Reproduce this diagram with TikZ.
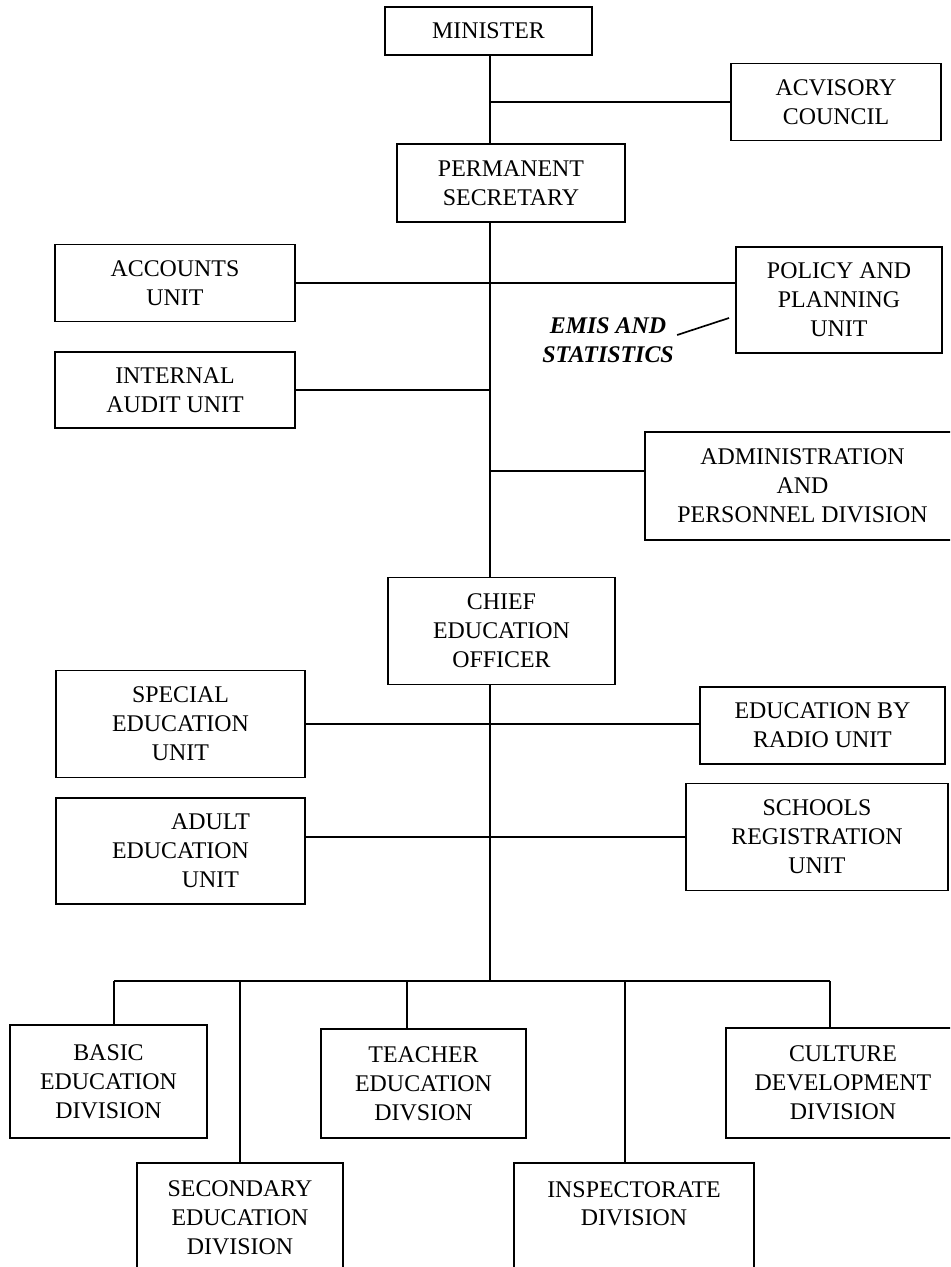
\documentclass[tikz,border=0pt]{standalone}
\usepackage{fontspec}
\setmainfont{Liberation Serif}

\tikzset{
  unit/.style={draw, line width=0.95pt, align=center, inner sep=0pt, font=\fontsize{13.6}{16.4}\selectfont},
  link/.style={line width=0.95pt},
}

\begin{document}
\begin{tikzpicture}[x=0.02cm, y=-0.02cm]
		\useasboundingbox (0,0) rectangle (950,1267);
		\clip (0,0) rectangle (950,1267);

		% top of the ministry
		\node[unit, minimum width=4.14cm, minimum height=0.96cm] (minister) at (488.5,31) {MINISTER};
		\node[unit, minimum width=4.2cm, minimum height=1.54cm] (advisory) at (836,102) {ACVISORY\\COUNCIL};
		\node[unit, minimum width=4.56cm, minimum height=1.56cm] (ps) at (511,183) {PERMANENT\\SECRETARY};

		\node[unit, minimum width=4.8cm, minimum height=1.54cm] (accounts) at (175,283) {ACCOUNTS\\UNIT};
		\node[unit, minimum width=4.12cm, minimum height=2.12cm] (policy) at (839,300) {POLICY AND\\PLANNING\\UNIT};
		\node[font=\fontsize{13.6}{16.4}\selectfont\bfseries\itshape, align=center, inner sep=0pt] (emis) at (608,340) {EMIS AND\\STATISTICS};
		\node[unit, minimum width=4.8cm, minimum height=1.52cm] (internal) at (175,390) {INTERNAL\\AUDIT UNIT};
		\node[unit, minimum width=6.3cm, minimum height=2.16cm] (admin) at (802.5,486) {ADMINISTRATION\\AND\\PERSONNEL DIVISION};

		% chief education officer and units
		\node[unit, minimum width=4.54cm, minimum height=2.14cm] (ceo) at (501.5,631) {CHIEF\\EDUCATION\\OFFICER};
		\node[unit, minimum width=4.98cm, minimum height=2.14cm] (special) at (180.5,724) {SPECIAL\\EDUCATION\\UNIT};
		\node[unit, minimum width=4.9cm, minimum height=1.54cm] (radio) at (822.5,725.5) {EDUCATION BY\\RADIO UNIT};
		\node[unit, minimum width=4.98cm, minimum height=2.12cm] (adult) at (180.5,851) {\hspace*{1.2cm}ADULT\\EDUCATION\\\hspace*{1.2cm}UNIT};
		\node[unit, minimum width=5.24cm, minimum height=2.14cm] (schools) at (817,837) {SCHOOLS\\REGISTRATION\\UNIT};

		% divisions
		\node[unit, minimum width=3.94cm, minimum height=2.26cm] (basic) at (108.5,1081.5) {BASIC\\EDUCATION\\DIVISION};
		\node[unit, minimum width=4.1cm, minimum height=2.18cm] (teacher) at (423.5,1083.5) {TEACHER\\EDUCATION\\DIVSION};
		\node[unit, minimum width=4.68cm, minimum height=2.2cm] (culture) at (843,1083) {CULTURE\\DEVELOPMENT\\DIVISION};
		\node[unit, minimum width=4.12cm, minimum height=2.2cm] (secondary) at (240,1218) {SECONDARY\\EDUCATION\\DIVISION};
		\node[unit, minimum width=4.8cm, minimum height=2.2cm] (inspect) at (634,1218) {INSPECTORATE\\DIVISION\\\phantom{D}};

		\coordinate (spine) at (490,0);
		\coordinate (bus) at (490,981);
		\coordinate (emisEnd) at (729,318);
		\coordinate (adminIn) at ([yshift=0.3cm]admin.west);
		\coordinate (dBasic) at ([xshift=0.11cm]basic.north);
		\coordinate (dSecondary) at (secondary.north);
		\coordinate (dTeacher) at ([xshift=-0.33cm]teacher.north);
		\coordinate (dInspect) at ([xshift=-0.18cm]inspect.north);
		\coordinate (dCulture) at ([xshift=-0.26cm]culture.north);

		\draw[link] (spine |- minister.south) -- (spine |- ps.north);
		\draw[link] (spine |- ps.south) -- (spine |- ceo.north);
		\draw[link] (spine |- ceo.south) -- (bus);

		\draw[link] (spine |- advisory.west) -- (advisory.west);
		\draw[link] (accounts.east) -- (accounts.east -| policy.west);
		\draw[link] ([shift={(3,-5)}]emis.east) -- (emisEnd);
		\draw[link] (internal.east) -- (internal.east -| spine);
		\draw[link] (spine |- adminIn) -- (adminIn);
		\draw[link] (special.east) -- (special.east -| radio.west);
		\draw[link] (adult.east |- schools.west) -- (schools.west);

		\draw[link] (dBasic |- bus) -- (dCulture |- bus);
		\foreach \d in {dBasic, dSecondary, dTeacher, dInspect, dCulture}
			\draw[link] (\d |- bus) -- (\d);
	\end{tikzpicture}
\end{document}
